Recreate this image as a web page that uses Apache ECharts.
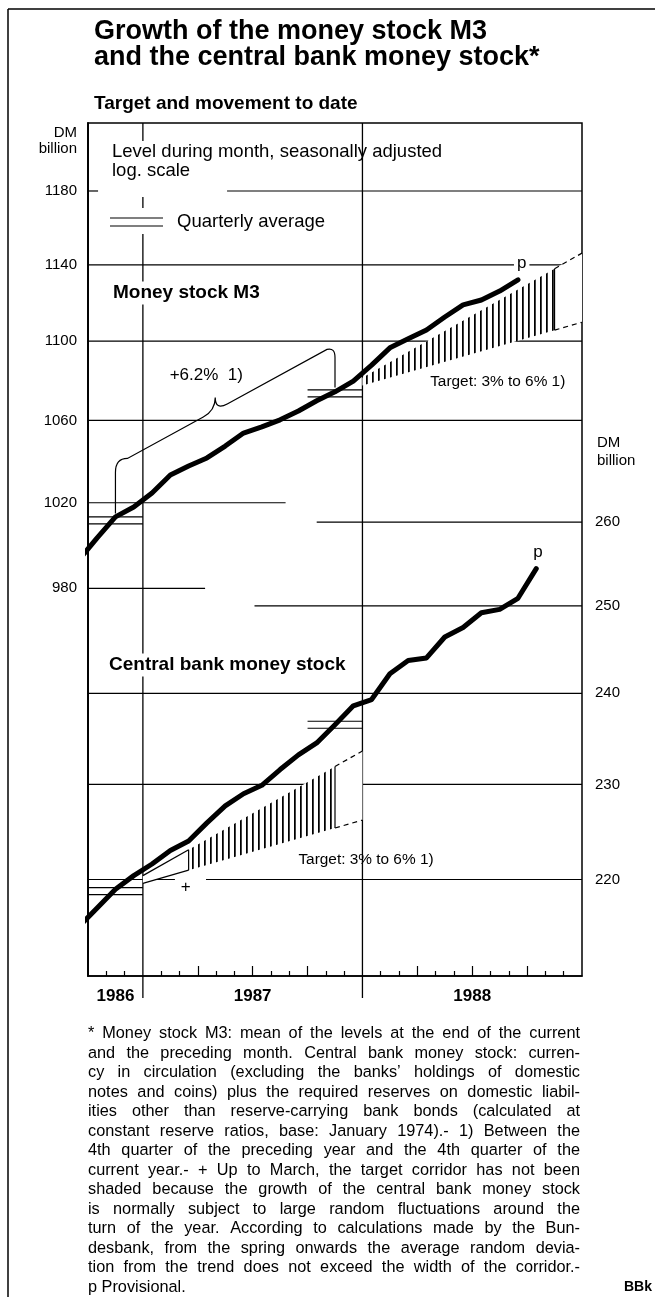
<!DOCTYPE html>
<html>
<head>
<meta charset="utf-8">
<script src="https://cdn.jsdelivr.net/npm/echarts@6/dist/echarts.min.js"></script>
<style>
html,body{margin:0;padding:0;background:#fff;}
#chart{width:655px;height:1297px;}
</style>
</head>
<body>
<div id="chart"></div>
<script>
var FONT = '"Liberation Sans", Arial, Helvetica, sans-serif';

// monthly levels, Sep 1986 .. Oct 1988 (DM billion)
var months = ['1986-09','1986-10','1986-11','1986-12',
  '1987-01','1987-02','1987-03','1987-04','1987-05','1987-06','1987-07','1987-08','1987-09','1987-10','1987-11','1987-12',
  '1988-01','1988-02','1988-03','1988-04','1988-05','1988-06','1988-07','1988-08','1988-09','1988-10'];
var m3 = [993.1, 1003.4, 1013.3, 1018.0,
  1024.7, 1033.3, 1037.7, 1041.6, 1047.4, 1053.8, 1056.8, 1060.3, 1064.7, 1069.8, 1074.3, 1079.7,
  1087.8, 1096.6, 1101.2, 1105.8, 1112.5, 1118.8, 1121.4, 1126.1, 1132.0, null];
var cbm = [215.2, 217.1, 219.0, 220.4,
  221.6, 223.0, 224.0, 225.9, 227.7, 229.0, 229.9, 231.6, 233.2, 234.5, 236.5, 238.6,
  239.3, 242.2, 243.7, 244.0, 246.4, 247.5, 249.2, 249.6, 250.9, 254.4];

// 4th quarter averages (1986, 1987)
var m3Q4 = [1011.6, 1073.5];
var cbmQ4 = [218.8, 236.5];

var m3Ticks = [980, 1020, 1060, 1100, 1140, 1180];
var cbmTicks = [220, 230, 240, 250, 260];
var years = ['1986', '1987', '1988'];
var targetLow = 3, targetHigh = 6;
var m3Growth = '+6.2%';

// axis ranges: months counted from 1 Oct 1986, log scales
var X_MIN = 0, X_MAX = 27;
var M3_MIN = 817.6, M3_MAX = 1218.1;
var CBM_MIN = 210.3, CBM_MAX = 313.3;

function monthPos(s) {
  var p = s.split('-');
  return (+p[0] - 1986) * 12 + (+p[1] - 10) + 0.5;
}
function yearStart(y) { return Math.max(X_MIN, (y - 1987) * 12 + 3); }
function pairs(vals) {
  var out = [];
  vals.forEach(function (v, i) { if (v != null) out.push([monthPos(months[i]), v]); });
  return out;
}

// hatch pattern for the shaded corridor
var hatch = document.createElement('canvas');
hatch.width = 6; hatch.height = 6;
(function () {
  var c = hatch.getContext('2d');
  c.fillStyle = '#000'; c.fillRect(0, 0, 1, 6);
  c.fillStyle = 'rgba(0,0,0,0.75)'; c.fillRect(1, 0, 1, 6);
})();

// horizontal rules (value, from month, to month) as drawn in the original
var m3Rules = [[1180, 0, 0.55], [1180, 7.6, 27], [1140, 0, 27], [1100, 0, 27], [1060, 0, 27], [1020, 0, 10.8], [980, 0, 6.4]];
var cbmRules = [[260, 12.5, 27], [250, 9.1, 27], [240, 0, 27], [230, 0, 27], [220, 0, 4.75], [220, 6.45, 27]];

function ruleSeries(rules, yi) {
  return {
    type: 'custom', yAxisIndex: yi, z: 1, silent: true,
    data: rules.map(function (r) { return [r[1], r[0], r[2]]; }),
    renderItem: function (params, api) {
      var a = api.coord([api.value(0), api.value(1)]);
      var b = api.coord([api.value(2), api.value(1)]);
      return { type: 'line', shape: { x1: a[0], y1: a[1], x2: b[0], y2: b[1] },
        style: { stroke: '#000', lineWidth: 1.2 } };
    }
  };
}

function quarterSeries(q, yi) {
  return {
    type: 'custom', yAxisIndex: yi, z: 3, silent: true,
    data: q.map(function (v, i) { var s = 12 * i; return [s, v, s + 3]; }),
    renderItem: function (params, api) {
      var a = api.coord([api.value(0), api.value(1)]);
      var b = api.coord([api.value(2), api.value(1)]);
      var st = { stroke: '#000', lineWidth: 1.2 };
      return { type: 'group', children: [
        { type: 'line', shape: { x1: a[0], y1: a[1] - 3.5, x2: b[0], y2: b[1] - 3.5 }, style: st },
        { type: 'line', shape: { x1: a[0], y1: a[1] + 3.5, x2: b[0], y2: b[1] + 3.5 }, style: st }
      ] };
    }
  };
}

function targetSeries(t, yi) {
  var from = (t.year - 1987) * 12 + 1.5;
  var start = yearStart(t.year), end = start + 12, stop = from + 12;
  return {
    type: 'custom', yAxisIndex: yi, z: 2, silent: true,
    data: [[from, t.base]],
    renderItem: function (params, api) {
      function at(m, r) { return api.coord([m, t.base * Math.pow(1 + r / 100, (m - from) / 12)]); }
      function poly(m0, m1, fill) {
        return { type: 'polygon', shape: { points: [at(m0, targetLow), at(m1, targetLow), at(m1, targetHigh), at(m0, targetHigh)] },
          style: { fill: fill } };
      }
      function seg(a, b, dash) {
        return { type: 'line', shape: { x1: a[0], y1: a[1], x2: b[0], y2: b[1] },
          style: { stroke: '#000', lineWidth: 1.2, lineDash: dash || null } };
      }
      var kids = [poly(start, end, '#fff'), poly(t.shadeFrom, stop, { image: hatch, repeat: 'repeat' })];
      kids.push(seg(at(stop, targetLow), at(stop, targetHigh)));
      kids.push(seg(at(stop, targetLow), at(end, targetLow), [5, 4]));
      kids.push(seg(at(stop, targetHigh), at(end, targetHigh), [5, 4]));
      if (t.shadeFrom > start) {
        kids.push(seg(at(start, targetLow), at(t.shadeFrom, targetLow)));
        kids.push(seg(at(start, targetHigh), at(t.shadeFrom, targetHigh)));
        kids.push(seg(at(t.shadeFrom, targetLow), at(t.shadeFrom, targetHigh)));
        var pp = at(t.shadeFrom, targetLow);
        kids.push({ type: 'text', x: pp[0] - 3, y: pp[1] + 17,
          style: { text: '+', fill: '#000', font: '17px ' + FONT, align: 'center', verticalAlign: 'middle' } });
      }
      var lp = at(t.labelAt, targetLow);
      kids.push({ type: 'text', x: lp[0], y: lp[1] + t.labelDy,
        style: { text: 'Target: ' + targetLow + '% to ' + targetHigh + '% 1)', fill: '#000',
          font: '15.4px ' + FONT, align: 'left', verticalAlign: 'middle' } });
      return { type: 'group', children: kids };
    }
  };
}

var braceSeries = {
  type: 'custom', yAxisIndex: 0, z: 3, silent: true,
  data: [[1.5, m3Q4[0], 13.5, m3Q4[1]]],
  renderItem: function (params, api) {
    var p1 = api.coord([api.value(0), api.value(1)]);
    var p2 = api.coord([api.value(2), api.value(3)]);
    var c = [p1[0] + 12, p1[1] - 62], d = [p2[0] - 8, p2[1] - 44];
    function on(t) { return [c[0] + (d[0] - c[0]) * t, c[1] + (d[1] - c[1]) * t]; }
    var pa = on(0.38), tm = on(0.44), pb = on(0.5), tip = [tm[0], tm[1] - 13];
    var path = 'M' + p1[0] + ',' + (p1[1] - 7) + ' L' + p1[0] + ',' + (p1[1] - 48) +
      ' Q' + p1[0] + ',' + (p1[1] - 62) + ' ' + c[0] + ',' + c[1] +
      ' L' + pa[0] + ',' + pa[1] + ' Q' + tm[0] + ',' + tm[1] + ' ' + tip[0] + ',' + tip[1] +
      ' Q' + tm[0] + ',' + tm[1] + ' ' + pb[0] + ',' + pb[1] +
      ' L' + d[0] + ',' + d[1] + ' Q' + p2[0] + ',' + (p2[1] - 46) + ' ' + p2[0] + ',' + (p2[1] - 36) +
      ' L' + p2[0] + ',' + (p2[1] - 6);
    return { type: 'group', children: [
      { type: 'path', shape: { pathData: path }, style: { stroke: '#000', lineWidth: 1.2, fill: null } },
      { type: 'text', x: tip[0] - 9, y: tip[1] - 22,
        style: { text: m3Growth + '  1)', fill: '#000', font: '17px ' + FONT, align: 'center', verticalAlign: 'middle' } }
    ] };
  }
};

var dividerSeries = {
  type: 'custom', yAxisIndex: 0, z: 1, silent: true,
  data: years.slice(1).map(function (y) { return [yearStart(+y)]; }),
  renderItem: function (params, api) {
    var a = api.coord([api.value(0), M3_MAX]);
    var b = api.coord([api.value(0), M3_MIN]);
    return { type: 'line', shape: { x1: a[0], y1: a[1], x2: b[0], y2: b[1] + 22 },
      style: { stroke: '#000', lineWidth: 1.3 } };
  }
};

function lineSeries(vals, yi, off) {
  return {
    type: 'line', yAxisIndex: yi, z: 5, data: pairs(vals), showSymbol: false, silent: true,
    lineStyle: { color: '#000', width: 5, cap: 'round', join: 'round' },
    endLabel: { show: true, formatter: 'p', color: '#000', fontSize: 17, fontFamily: FONT,
      backgroundColor: '#fff', padding: [0, 3], offset: off }
  };
}

var shortTicks = [], longTicks = [];
for (var k = 1; k < X_MAX; k++) {
  if (k % 3) shortTicks.push(k);
  else if (k % 12 !== 3) longTicks.push(k);
}
var yearMids = years.map(function (y) { var s = yearStart(+y); return (s + Math.min(X_MAX, (+y - 1986) * 12 + 3)) / 2; });

// footnote, justified word by word
var noteLines = [
  '* Money stock M3: mean of the levels at the end of the current',
  'and the preceding month. Central bank money stock: curren-',
  'cy in circulation (excluding the banks\u2019 holdings of domestic',
  'notes and coins) plus the required reserves on domestic liabil-',
  'ities other than reserve-carrying bank bonds (calculated at',
  'constant reserve ratios, base: January 1974).- 1) Between the',
  '4th quarter of the preceding year and the 4th quarter of the',
  'current year.- + Up to March, the target corridor has not been',
  'shaded because the growth of the central bank money stock',
  'is normally subject to large random fluctuations around  the',
  'turn of the year. According to calculations made by the Bun-',
  'desbank, from the spring onwards the average random devia-',
  'tion from the trend does not exceed the width of the corridor.-',
  'p Provisional.'
];
function noteElements() {
  var font = '16.3px ' + FONT, left = 88, right = 580, top = 1034, pitch = 19.5;
  var ctx = document.createElement('canvas').getContext('2d');
  ctx.font = font;
  var els = [];
  function word(x, y, s) {
    els.push({ type: 'text', x: x, y: y, z: 20,
      style: { text: s, fill: '#000', font: font, align: 'left', verticalAlign: 'middle' } });
  }
  noteLines.forEach(function (line, i) {
    var y = top + i * pitch;
    if (i === noteLines.length - 1) { word(left, y, line); return; }
    var words = line.trim().split(/\s+/);
    var w = words.map(function (s) { return ctx.measureText(s).width; });
    var sum = w.reduce(function (a, b) { return a + b; }, 0);
    var gap = (right - left - sum) / (words.length - 1);
    var x = left;
    words.forEach(function (s, j) { word(x, y, s); x += w[j] + gap; });
  });
  els.push({ type: 'text', x: 652, y: top + (noteLines.length - 1) * pitch, z: 20,
    style: { text: 'BBk', fill: '#000', font: 'bold 14px ' + FONT, align: 'right', verticalAlign: 'middle' } });
  return els;
}

function txt(x, y, s, font, align, bg) {
  var st = { text: s, fill: '#000', font: font + ' ' + FONT, align: align || 'left', verticalAlign: 'middle' };
  if (bg) { st.backgroundColor = '#fff'; st.padding = [2, 3]; }
  return { type: 'text', x: x, y: y, z: 30, style: st };
}
function rule(x1, y1, x2, y2, w) {
  return { type: 'line', z: 30, shape: { x1: x1, y1: y1, x2: x2, y2: y2 }, style: { stroke: '#000', lineWidth: w || 1.2 } };
}
function blank(x, y, w, h) {
  return { type: 'rect', z: 25, shape: { x: x, y: y, width: w, height: h }, style: { fill: '#fff' } };
}

var graphics = [
  rule(8, 9, 655, 9, 1.5), rule(8, 9, 8, 1297, 1.5),
  txt(94, 32, 'Growth of the money stock M3', 'bold 27px'),
  txt(94, 58, 'and the central bank money stock*', 'bold 27px'),
  txt(94, 104, 'Target and movement to date', 'bold 19px'),
  txt(77, 133, 'DM', '15px', 'right'), txt(77, 149, 'billion', '15px', 'right'),
  txt(597, 443, 'DM', '15px'), txt(597, 461, 'billion', '15px'),
  blank(138, 141, 10, 56), blank(138, 208, 10, 26),
  txt(112, 152, 'Level during month, seasonally adjusted', '18.5px'),
  txt(112, 171, 'log. scale', '18.5px'),
  rule(110, 218, 163, 218), rule(110, 226, 163, 226),
  txt(177, 222, 'Quarterly average', '18.5px'),
  txt(110, 293, 'Money stock M3', 'bold 19px', 'left', true),
  txt(106, 665, 'Central bank money stock', 'bold 19px', 'left', true)
].concat(noteElements());

function plain(v) { return String(Math.round(v)); }
var option = {
  animation: false,
  backgroundColor: '#fff',
  textStyle: { fontFamily: FONT, color: '#000' },
  grid: { left: 88, right: 73, top: 123, bottom: 321, containLabel: false, outerBoundsMode: 'none',
    show: true, borderColor: '#000', borderWidth: 1.5, backgroundColor: 'transparent' },
  xAxis: [
    { type: 'value', min: X_MIN, max: X_MAX, position: 'bottom', axisLine: { lineStyle: { color: '#000', width: 1.5 } },
      axisTick: { show: true, inside: true, length: 5, customValues: shortTicks, lineStyle: { color: '#000', width: 1.2 } },
      axisLabel: { customValues: yearMids, margin: 12, color: '#000', fontSize: 17, fontWeight: 'bold', fontFamily: FONT,
        formatter: function (v) { return years[yearMids.indexOf(v)] || ''; } },
      splitLine: { show: false } },
    { type: 'value', min: X_MIN, max: X_MAX, position: 'bottom', axisLine: { show: false },
      axisTick: { show: true, inside: true, length: 10, customValues: longTicks, lineStyle: { color: '#000', width: 1.2 } },
      axisLabel: { show: false }, splitLine: { show: false } }
  ],
  yAxis: [
    { type: 'log', min: M3_MIN, max: M3_MAX, position: 'left', axisLine: { show: true, lineStyle: { color: '#000', width: 1.5 } },
      axisTick: { show: false },
      axisLabel: { customValues: m3Ticks, formatter: plain, margin: 11, color: '#000', fontSize: 15, fontFamily: FONT },
      splitLine: { show: false } },
    { type: 'log', min: CBM_MIN, max: CBM_MAX, position: 'right', axisLine: { show: true, lineStyle: { color: '#000', width: 1.5 } },
      axisTick: { show: false },
      axisLabel: { customValues: cbmTicks, formatter: plain, margin: 13, color: '#000', fontSize: 15, fontFamily: FONT },
      splitLine: { show: false } }
  ],
  series: [
    ruleSeries(m3Rules, 0), ruleSeries(cbmRules, 1), dividerSeries,
    targetSeries({ base: cbmQ4[0], year: 1987, shadeFrom: 5.5, labelAt: 11.5, labelDy: 21 }, 1),
    targetSeries({ base: m3Q4[1], year: 1988, shadeFrom: 15, labelAt: 18.7, labelDy: 16 }, 0),
    quarterSeries(m3Q4, 0), quarterSeries(cbmQ4, 1), braceSeries,
    lineSeries(m3, 0, [-12, -17]), lineSeries(cbm, 1, [-14, -16])
  ],
  graphic: { elements: graphics }
};

var chart = echarts.init(document.getElementById('chart'));
chart.setOption(option);
</script>
</body>
</html>
